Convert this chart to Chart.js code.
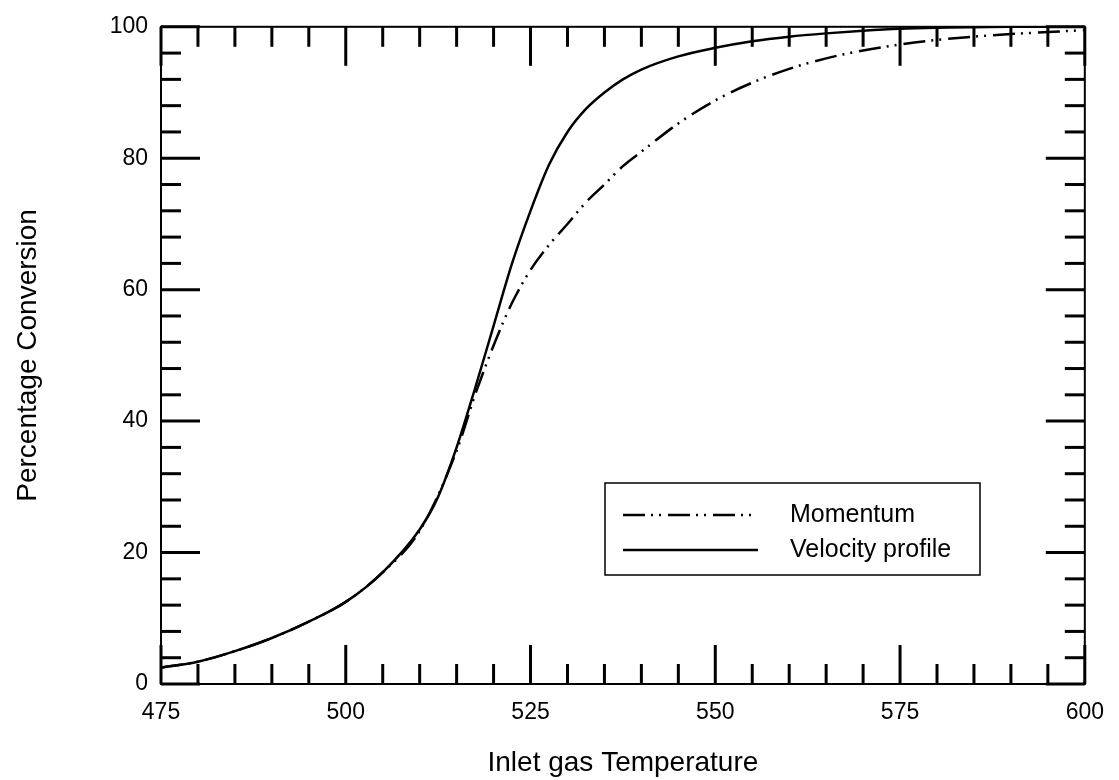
<!DOCTYPE html>
<html>
<head>
<meta charset="utf-8">
<script src="https://cdn.jsdelivr.net/npm/chart.js@4/dist/chart.umd.min.js"></script>
<style>
  html, body { margin: 0; padding: 0; background: #ffffff; }
  #wrap { width: 1119px; height: 780px; }
</style>
</head>
<body>
<div id="wrap"><canvas id="c" width="1119" height="780"></canvas></div>
<script>
// ---- data ----
const momentumT = [475, 480, 485, 490, 495, 500, 505, 510, 515, 517.5, 520, 522.5, 525, 527.5, 530, 532.5, 535, 537.5, 540, 545, 550, 555, 560, 565, 570, 575, 580, 585, 590, 595, 600];
const momentumY = [2.5, 3.4, 5.0, 7.0, 9.5, 12.5, 17, 23.3, 35.5, 44, 51.5, 58, 63, 66.8, 70, 73.3, 76, 78.8, 81, 85.3, 88.8, 91.5, 93.6, 95.2, 96.4, 97.3, 98, 98.5, 98.9, 99.2, 99.5];
const velocityT = [475, 480, 485, 490, 495, 500, 505, 510, 512.5, 515, 517.5, 520, 522.5, 525, 527.5, 530, 532.5, 535, 537.5, 540, 545, 550, 555, 560, 565, 570, 575, 580, 590, 600];
const velocityY = [2.5, 3.4, 5.0, 7.0, 9.5, 12.5, 17, 23.5, 28.5, 36, 45, 54.5, 64, 72, 79, 84, 87.5, 90, 92, 93.5, 95.5, 96.8, 97.8, 98.5, 99, 99.4, 99.7, 99.85, 100, 100];
const seriesNames = ["Momentum", "Velocity profile"];
const xMajorTicks = [475, 500, 525, 550, 575, 600];
const xMinorTicks = [480, 485, 490, 495, 505, 510, 515, 520, 530, 535, 540, 545, 555, 560, 565, 570, 580, 585, 590, 595];
const yMajorTicks = [0, 20, 40, 60, 80, 100];
const yMinorTicks = [4, 8, 12, 16, 24, 28, 32, 36, 44, 48, 52, 56, 64, 68, 72, 76, 84, 88, 92, 96];
const xTitle = "Inlet gas Temperature";
const yTitle = "Percentage Conversion";

const FONT = "'Liberation Sans', Arial, Helvetica, sans-serif";
const momentumDash = [22, 6, 2, 6, 2, 7];

function pts(xs, ys) { return xs.map((x, i) => ({ x: x, y: ys[i] })); }

const frameTicks = {
  id: 'frameTicks',
  afterDatasetsDraw(chart) {
    const ctx = chart.ctx;
    const a = chart.chartArea;
    const xs = chart.scales.x, ys = chart.scales.y;
    ctx.save();
    ctx.strokeStyle = '#000';
    ctx.lineCap = 'butt';
    ctx.lineWidth = 3;
    const drawX = (vals, len) => {
      vals.forEach(v => {
        const px = xs.getPixelForValue(v);
        ctx.beginPath(); ctx.moveTo(px, a.bottom); ctx.lineTo(px, a.bottom - len); ctx.stroke();
        ctx.beginPath(); ctx.moveTo(px, a.top); ctx.lineTo(px, a.top + len); ctx.stroke();
      });
    };
    const drawY = (vals, len) => {
      vals.forEach(v => {
        const py = ys.getPixelForValue(v);
        ctx.beginPath(); ctx.moveTo(a.left, py); ctx.lineTo(a.left + len, py); ctx.stroke();
        ctx.beginPath(); ctx.moveTo(a.right, py); ctx.lineTo(a.right - len, py); ctx.stroke();
      });
    };
    drawX(xMinorTicks, 20);
    drawX(xMajorTicks, 39);
    drawY(yMinorTicks, 20);
    drawY(yMajorTicks, 39);
    ctx.lineWidth = 2;
    ctx.strokeRect(a.left, a.top, a.right - a.left, a.bottom - a.top);
    ctx.restore();
  },
  afterDraw(chart) {
    const ctx = chart.ctx;
    const bx = 605, by = 483, bw = 375, bh = 92;
    ctx.save();
    ctx.fillStyle = '#fff';
    ctx.fillRect(bx, by, bw, bh);
    ctx.strokeStyle = '#000';
    ctx.lineWidth = 1.5;
    ctx.strokeRect(bx, by, bw, bh);
    const rows = [515, 550];
    chart.data.datasets.forEach((ds, i) => {
      const y = rows[i];
      ctx.beginPath();
      ctx.setLineDash(ds.borderDash || []);
      ctx.lineWidth = ds.borderWidth;
      ctx.strokeStyle = ds.borderColor;
      ctx.moveTo(623, y); ctx.lineTo(758, y);
      ctx.stroke();
      ctx.setLineDash([]);
      ctx.fillStyle = '#000';
      ctx.font = "25px " + FONT;
      ctx.textAlign = 'left';
      ctx.textBaseline = 'middle';
      ctx.fillText(ds.label, 790, y);
    });
    ctx.restore();
  }
};

new Chart(document.getElementById('c'), {
  type: 'line',
  data: {
    datasets: [
      { label: seriesNames[0], data: pts(momentumT, momentumY), borderColor: '#000', borderWidth: 2.5, borderDash: momentumDash, pointRadius: 0, fill: false, cubicInterpolationMode: 'monotone' },
      { label: seriesNames[1], data: pts(velocityT, velocityY), borderColor: '#000', borderWidth: 2.5, pointRadius: 0, fill: false, cubicInterpolationMode: 'monotone' }
    ]
  },
  options: {
    responsive: false,
    animation: false,
    layout: { padding: { top: 24, right: 23, left: 0, bottom: 0 } },
    plugins: { legend: { display: false }, tooltip: { enabled: false } },
    scales: {
      x: {
        type: 'linear', min: 475, max: 600,
        afterBuildTicks(s) { s.ticks = xMajorTicks.map(v => ({ value: v })); },
        afterFit(s) { s.height = 96; },
        ticks: { color: '#000', padding: 15, font: { family: FONT, size: 23 } },
        grid: { display: false, drawTicks: false },
        border: { display: false },
        title: { display: true, text: xTitle, color: '#000', padding: { top: 0, bottom: 0 }, font: { family: FONT, size: 28 } }
      },
      y: {
        type: 'linear', min: 0, max: 100,
        afterBuildTicks(s) { s.ticks = yMajorTicks.map(v => ({ value: v })); },
        afterFit(s) { s.width = 161; },
        ticks: { color: '#000', padding: 13, font: { family: FONT, size: 23 } },
        grid: { display: false, drawTicks: false },
        border: { display: false },
        title: { display: true, text: yTitle, color: '#000', padding: { top: 11, bottom: 0 }, font: { family: FONT, size: 28 } }
      }
    }
  },
  plugins: [frameTicks]
});
</script>
</body>
</html>
